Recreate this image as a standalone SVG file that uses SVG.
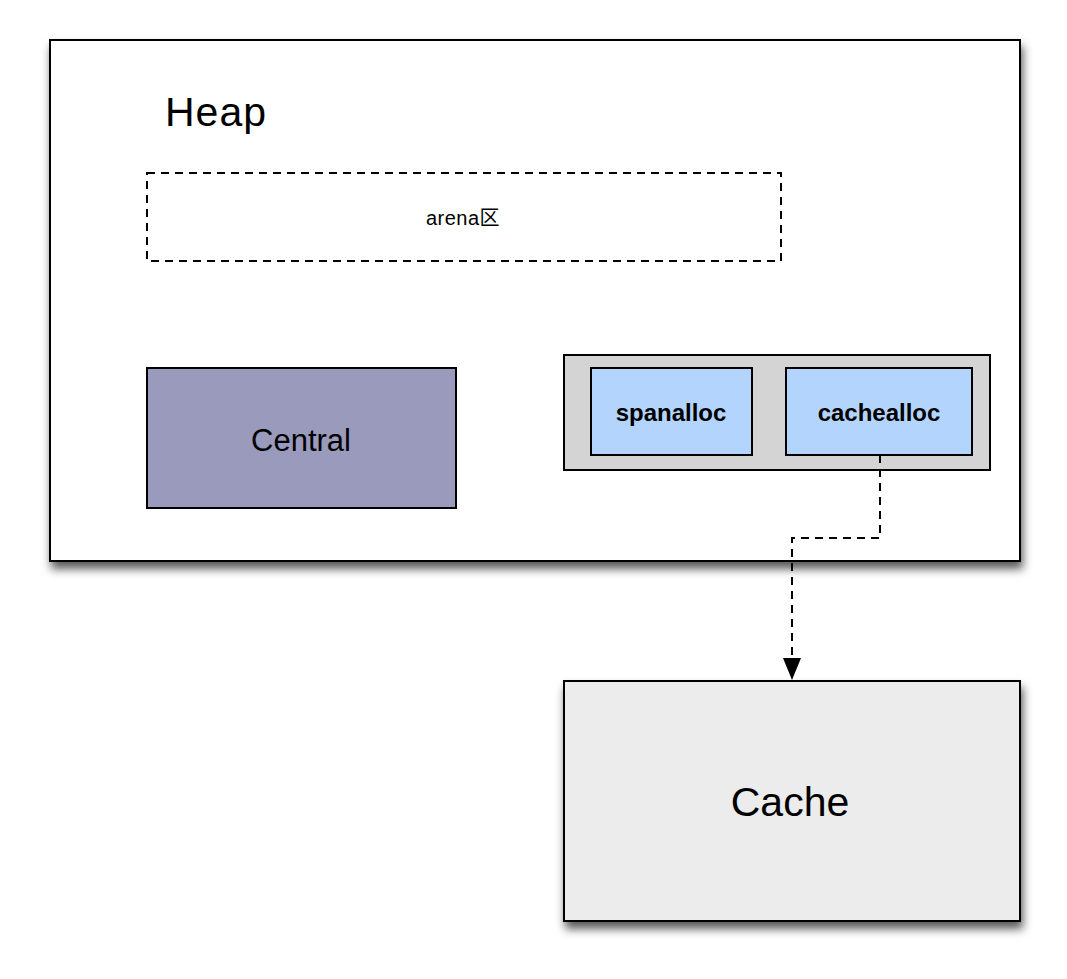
<svg xmlns="http://www.w3.org/2000/svg" width="1067" height="979" viewBox="0 0 1067 979">
<style>
.box{stroke:#000;stroke-width:2}
.lbl{font-family:"Liberation Sans","Noto Sans CJK SC",sans-serif;fill:#000;text-anchor:middle}
.dash{fill:none;stroke:#000;stroke-width:2;stroke-dasharray:8,6}
</style>
<defs>
<filter id="sh" x="-10%" y="-10%" width="130%" height="130%">
<feDropShadow dx="2" dy="7" stdDeviation="5" flood-color="#000" flood-opacity="0.65"/>
</filter>
</defs>
<rect width="1067" height="979" fill="#fff"/>
<g id="heap">
<rect class="box" x="50" y="40" width="970" height="521" fill="#fff" filter="url(#sh)"/>
<text class="lbl" x="165" y="126" font-size="41" font-weight="500" letter-spacing="1" style="text-anchor:start">Heap</text>
</g>
<g id="arena">
<rect class="dash" x="147" y="173" width="634" height="88"/>
<text class="lbl" x="463" y="225" font-size="20" letter-spacing="0.5">arena区</text>
</g>
<g id="central">
<rect class="box" x="147" y="368" width="309" height="140" fill="#9a9abd"/>
<text class="lbl" x="301" y="451" font-size="31">Central</text>
</g>
<g id="alloc">
<rect class="box" x="564" y="355" width="426" height="115" fill="#d4d4d4"/>
</g>
<g id="spanalloc">
<rect class="box" x="591" y="368" width="161" height="87" fill="#b3d4fc"/>
<text class="lbl" x="671" y="421" font-size="24" font-weight="bold">spanalloc</text>
</g>
<g id="cachealloc">
<rect class="box" x="786" y="368" width="186" height="87" fill="#b3d4fc"/>
<text class="lbl" x="879" y="421" font-size="24" font-weight="bold">cachealloc</text>
</g>
<g id="cache">
<rect class="box" x="564" y="681" width="456" height="240" fill="#ececec" filter="url(#sh)"/>
<text class="lbl" x="790" y="816" font-size="41">Cache</text>
</g>
<g id="connectors">
<path class="dash" d="M880,455 V538 H792 V660"/>
<path d="M783,658 L801,658 L792,680 z" fill="#000"/>
</g>
</svg>
